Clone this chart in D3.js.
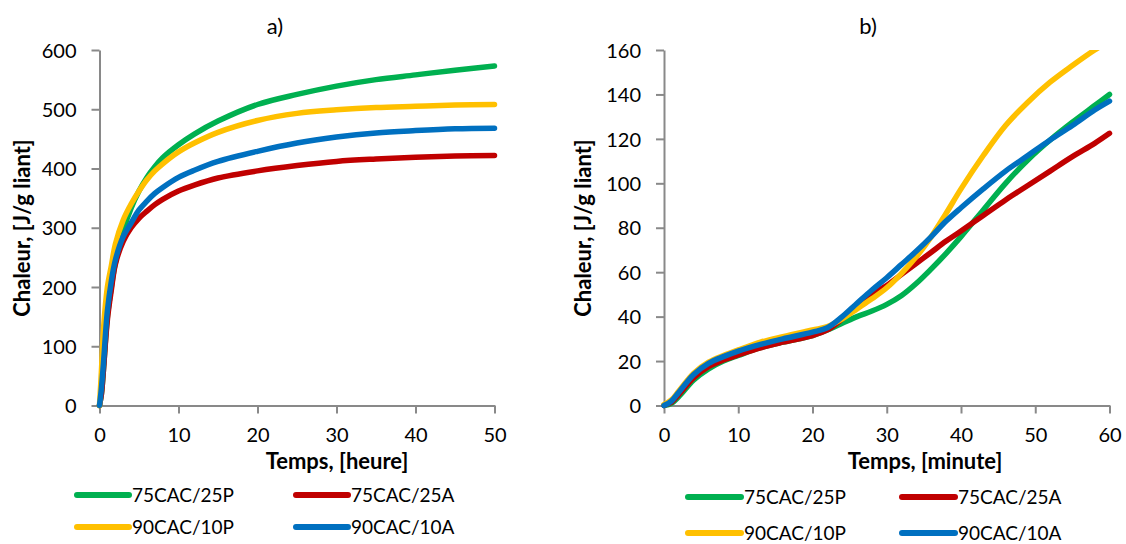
<!DOCTYPE html>
<html><head><meta charset="utf-8">
<script src="https://cdn.jsdelivr.net/npm/d3@7"></script>
<style>body{margin:0;background:#fff}svg{display:block}text{font-family:Lato,"Liberation Sans",sans-serif;fill:#000}</style>
</head><body><svg id="c" width="1126" height="544"></svg>
<script>
// ---- Data ----
const seriesNames = ["75CAC/25P", "75CAC/25A", "90CAC/10P", "90CAC/10A"];
const seriesColors = ["#00B050", "#C00000", "#FFC000", "#0070C0"];

// Panel a) time in hours
const hoursA = [0, 0.25, 0.5, 1, 1.5, 2, 3, 4, 5, 6, 7, 8, 10, 12, 15, 20, 25, 30, 35, 40, 45, 50];
const a_75P = [0, 20, 60, 150, 200, 240, 295, 333, 362, 385, 403, 418, 440, 458, 480, 508, 525, 539, 550, 558, 566, 573];
const a_75A = [0, 20, 60, 145, 195, 238, 277, 300, 316, 328, 339, 348, 362, 372, 384, 396, 405, 412, 416, 419, 421, 422];
const a_90P = [0, 60, 128, 200, 236, 272, 313, 340, 362, 381, 396, 408, 428, 443, 461, 481, 493, 499, 503, 505, 507, 508];
const a_90A = [0, 30, 71, 160, 210, 245, 285, 308, 330, 345, 358, 368, 385, 397, 412, 429, 443, 453, 460, 464, 467, 468];

// Panel b) time in minutes
const minutesB = [0, 1, 2, 4, 6, 8, 10, 13, 16, 20, 22, 24, 26, 28, 30, 32, 34, 36, 38, 40, 43, 46, 49, 52, 55, 58, 60];
const b_75P = [0, 1, 4, 11.5, 16.5, 20, 22.5, 26, 28.5, 31.5, 34, 37, 40, 42.5, 45.5, 49.5, 55, 61.5, 68.5, 76, 88, 100, 110.5, 119.5, 127.5, 135, 140];
const b_75A = [0, 1.5, 5, 12.5, 17.5, 20.5, 22.8, 26, 28.5, 31.5, 34, 39, 45, 50, 54, 59, 64, 69, 74, 78.5, 85.5, 92.5, 99, 105.5, 112, 118, 122.5];
const b_90P = [0.5, 2.5, 6.5, 14.5, 19.5, 22.5, 25, 28.5, 31, 34, 35.5, 39, 43.5, 48, 53, 59.5, 67, 76, 86.5, 97.5, 112.5, 126, 136.5, 145.5, 153, 160, 164];
const b_90A = [0, 2, 6, 14, 19, 22, 24.5, 27.5, 30, 33, 35, 40, 46, 52, 57.5, 63.5, 69.5, 76, 83, 89, 97.5, 105.5, 112.5, 119.5, 126, 133, 137];

const ticksA_x = [0, 10, 20, 30, 40, 50];
const ticksA_y = [0, 100, 200, 300, 400, 500, 600];
const ticksB_x = [0, 10, 20, 30, 40, 50, 60];
const ticksB_y = [0, 20, 40, 60, 80, 100, 120, 140, 160];

const svg = d3.select("#c");
const axisColor = "#898989";

function panel(cfg) {
  const g = svg.append("g");
  const x = d3.scaleLinear().domain(cfg.xDomain).range([cfg.x0, cfg.x1]);
  const y = d3.scaleLinear().domain(cfg.yDomain).range([cfg.y0, cfg.y1]);
  const clipId = "clip" + cfg.id;
  svg.append("clipPath").attr("id", clipId).append("rect")
    .attr("x", cfg.x0 - 4).attr("y", cfg.y1).attr("width", cfg.x1 - cfg.x0 + 8).attr("height", cfg.y0 - cfg.y1 + 4);

  // axes
  const ya = g.append("g").attr("transform", `translate(${cfg.x0},0)`)
    .call(d3.axisLeft(y).tickValues(cfg.yTicks).tickSize(8).tickPadding(15).tickSizeOuter(0));
  const xa = g.append("g").attr("transform", `translate(0,${cfg.y0})`)
    .call(d3.axisBottom(x).tickValues(cfg.xTicks).tickSize(8).tickPadding(14).tickSizeOuter(0));
  [ya, xa].forEach(a => {
    a.select(".domain").attr("stroke", axisColor).attr("stroke-width", 2);
    a.selectAll(".tick line").attr("stroke", axisColor).attr("stroke-width", 2);
    a.selectAll(".tick text").style("font-size", "20px").style("font-family", "Lato, sans-serif").attr("fill", "#000");
  });
  ya.selectAll(".tick text").attr("dy", "0.36em");

  // lines
  const line = d3.line().x(d => x(d[0])).y(d => y(d[1])).curve(d3.curveCatmullRom.alpha(0.5));
  const lg = g.append("g").attr("clip-path", `url(#${clipId})`);
  cfg.series.forEach((s, i) => {
    const pts = cfg.xs.map((t, k) => [t, s[k]]);
    lg.append("path").attr("d", line(pts)).attr("fill", "none")
      .attr("stroke", seriesColors[i]).attr("stroke-width", 5.5)
      .attr("stroke-linejoin", "round").attr("stroke-linecap", "round");
  });

  // titles
  g.append("text").attr("x", cfg.titleX).attr("y", 34).attr("text-anchor", "middle")
    .style("font-size", "22px").text(cfg.title);
  g.append("text").attr("x", cfg.xTitleX).attr("y", 469).attr("text-anchor", "middle")
    .style("font-size", "22px").style("font-weight", "bold").text(cfg.xTitle);
  g.append("text").attr("transform", `translate(${cfg.yTitleX},228) rotate(-90)`).attr("text-anchor", "middle")
    .style("font-size", "22px").style("font-weight", "bold").text("Chaleur, [J/g liant]");

  // legend
  cfg.legendPos.forEach((p, i) => {
    g.append("line").attr("x1", p[0]).attr("x2", p[0] + cfg.legLen).attr("y1", p[1]).attr("y2", p[1])
      .attr("stroke", seriesColors[i]).attr("stroke-width", 6).attr("stroke-linecap", "round");
    g.append("text").attr("x", p[0] + cfg.legLen + 3).attr("y", p[1] + 7).style("font-size", "19px").text(seriesNames[i]);
  });
}

panel({
  id: "a", xDomain: [0, 50], yDomain: [0, 600], x0: 99.5, x1: 494.5, y0: 405.5, y1: 50,
  xTicks: ticksA_x, yTicks: ticksA_y, xs: hoursA, series: [a_75P, a_75A, a_90P, a_90A],
  title: "a)", titleX: 275, xTitle: "Temps, [heure]", xTitleX: 337, yTitleX: 30,
  legLen: 52, legendPos: [[77, 495], [296, 495], [77, 527], [296, 527]]
});
panel({
  id: "b", xDomain: [0, 60], yDomain: [0, 160], x0: 664, x1: 1109.5, y0: 405.5, y1: 50,
  xTicks: ticksB_x, yTicks: ticksB_y, xs: minutesB, series: [b_75P, b_75A, b_90P, b_90A],
  title: "b)", titleX: 868, xTitle: "Temps, [minute]", xTitleX: 925, yTitleX: 591,
  legLen: 53, legendPos: [[688, 497], [902, 497], [688, 533], [902, 533]]
});
</script></body></html>
